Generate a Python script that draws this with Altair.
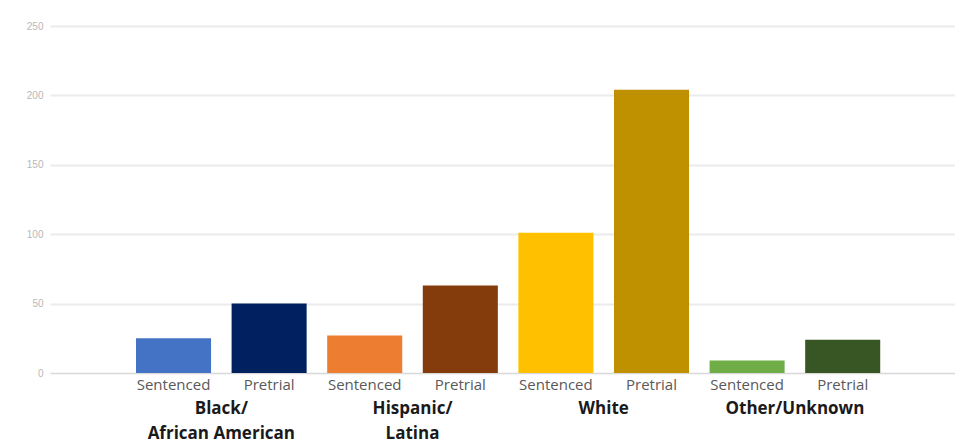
import altair as alt
import pandas as pd

# Population by race/ethnicity and custody status
groups = ["Black/\nAfrican American", "Hispanic/\nLatina", "White", "Other/Unknown"]
statuses = ["Sentenced", "Pretrial"]
sentenced = [25, 27, 101, 9]
pretrial = [50, 63, 204, 24]
bar_colors = [
    "#4472C4", "#002060",  # Black/African American
    "#ED7D31", "#843C0C",  # Hispanic/Latina
    "#FFC000", "#BF9000",  # White
    "#70AD47", "#375623",  # Other/Unknown
]
y_ticks = [0, 50, 100, 150, 200, 250]

rows = []
for g, s, p in zip(groups, sentenced, pretrial):
    rows.append({"group": g, "status": "Sentenced", "value": s, "key": g + "|Sentenced"})
    rows.append({"group": g, "status": "Pretrial", "value": p, "key": g + "|Pretrial"})
df = pd.DataFrame(rows)
keys = list(df["key"])
labels_df = pd.DataFrame({"group": groups})

x_enc = alt.X(
    "group:N",
    sort=groups,
    scale=alt.Scale(paddingInner=0, paddingOuter=0.3667, align=0.54),
    axis=alt.Axis(labels=False, ticks=False, title=None, domain=True,
                  domainColor="#d9d9d9", domainWidth=1.2, grid=False),
)
xoff_enc = alt.XOffset(
    "status:N", sort=statuses,
    scale=alt.Scale(paddingInner=0.215, paddingOuter=0.1075),
)

bars = alt.Chart(df).mark_bar().encode(
    x=x_enc,
    xOffset=xoff_enc,
    y=alt.Y(
        "value:Q",
        scale=alt.Scale(domain=[0, 250], nice=False),
        axis=alt.Axis(values=y_ticks, title=None, domain=False, ticks=False,
                      labelFontSize=10, labelColor="#b8b8b8", labelPadding=7,
                      gridColor="#ebebeb", gridWidth=1.8),
    ),
    color=alt.Color("key:N", scale=alt.Scale(domain=keys, range=bar_colors), legend=None),
)

status_text = alt.Chart(df).mark_text(
    baseline="middle", dy=12, fontSize=15, font="Open Sans", color="#595959"
).encode(
    x=alt.X("group:N", sort=groups),
    xOffset=alt.XOffset("status:N", sort=statuses),
    y=alt.datum(0),
    text="status:N",
)

group_text = alt.Chart(labels_df).mark_text(
    baseline="middle", dy=36, fontSize=17, fontWeight="bold", font="Open Sans",
    color="#1a1a1a", lineBreak="\n", lineHeight=25,
).encode(
    x=alt.X("group:N", sort=groups),
    y=alt.datum(0),
    text="group:N",
)

chart = alt.layer(bars, status_text, group_text).properties(
    width=905,
    height=347,
    autosize=alt.AutoSizeParams(type="none"),
    padding={"left": 50, "top": 26, "right": 0, "bottom": 71},
).configure(
    background="white",
    view=alt.ViewConfig(stroke=None),
)

chart.save("out.html", embed_options={"renderer": "svg", "actions": False})
